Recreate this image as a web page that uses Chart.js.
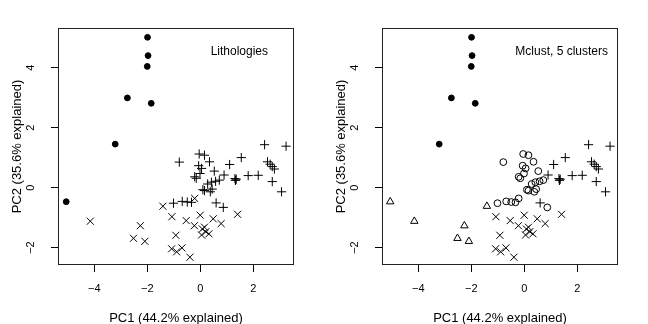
<!DOCTYPE html>
<html>
<head>
<meta charset="utf-8">
<script src="https://cdn.jsdelivr.net/npm/chart.js@4.4.0/dist/chart.umd.min.js"></script>
<style>
html, body { margin: 0; padding: 0; background: #fff; }
#wrap { width: 648px; height: 324px; display: flex; }
canvas { display: block; }
</style>
</head>
<body>
<div id="wrap">
  <canvas id="leftChart" width="324" height="324"></canvas>
  <canvas id="rightChart" width="324" height="324"></canvas>
</div>
<script>
// PCA scores, one entry per sample
const pc1 = [
    -1.99, -1.97, -2.00, -2.75, -1.85, -3.21, -5.06,
    -4.15, -2.26, -2.52, -2.09, -1.41,
    -1.07, -0.53, -0.92, -1.08, -0.89, -0.69, -0.39, -0.22, 0.00, 0.08, 0.16, 0.21, 0.05, 0.33, 0.49, 0.79, 1.41,
    -0.21,
    -0.79, -0.04, 0.16, 0.35, -0.06, 0.05, 0.53, -0.21, -0.15, -0.01, 0.28, 0.42, 0.58, 0.72, 0.10, 0.16, 0.38, 0.45, -1.01, -0.68, -0.49, -0.33, 0.87,
    2.43, 3.24, 1.55, 1.11, 2.54, 2.64, 2.72, 2.80, 0.90, 1.31, 1.33, 1.36, 1.81, 2.19, 2.72, 3.07, 0.60
];
const pc2 = [
    5.01, 4.40, 4.04, 2.99, 2.81, 1.45, -0.47,
    -1.12, -1.27, -1.69, -1.79, -0.62,
    -0.97, -1.10, -1.59, -2.04, -2.14, -2.01, -2.32, -1.27, -0.92, -1.38, -1.32, -1.47, -1.58, -1.54, -1.04, -1.20, -0.89,
    -0.36,
    0.85, 1.12, 1.08, 0.86, 0.73, 0.64, 0.55, 0.36, 0.31, 0.47, 0.12, 0.18, 0.21, 0.25, -0.07, -0.10, -0.14, -0.05, -0.52, -0.46, -0.48, -0.49, -0.66,
    1.43, 1.38, 1.00, 0.77, 0.86, 0.78, 0.70, 0.62, 0.42, 0.30, 0.24, 0.28, 0.40, 0.41, 0.20, -0.14, -0.51
];
// lithology: 1 = dot, 2 = plus, 3 = cross
const lithology = [
    1, 1, 1, 1, 1, 1, 1,
    3, 3, 3, 3, 3,
    3, 3, 3, 3, 3, 3, 3, 3, 3, 3, 3, 3, 3, 3, 3, 3, 3,
    3,
    2, 2, 2, 2, 2, 2, 2, 2, 2, 2, 2, 2, 2, 2, 2, 2, 2, 2, 2, 2, 2, 2, 2,
    2, 2, 2, 2, 2, 2, 2, 2, 2, 2, 2, 2, 2, 2, 2, 2, 2
];
// mclust: 1 = dot, 2 = open circle, 3 = plus, 4 = cross, 5 = triangle
const cluster = [
    1, 1, 1, 1, 1, 1, 5,
    5, 5, 5, 5, 5,
    4, 4, 4, 4, 4, 4, 4, 4, 4, 4, 4, 4, 4, 4, 4, 4, 4,
    2,
    2, 2, 2, 2, 2, 2, 2, 2, 2, 2, 2, 2, 2, 2, 2, 2, 2, 2, 2, 2, 2, 2, 2,
    3, 3, 3, 3, 3, 3, 3, 3, 3, 3, 3, 3, 3, 3, 3, 3, 3
];
const xTicks = [-4, -2, 0, 2];
const yTicks = [-2, 0, 2, 4];
const xTitle = 'PC1 (44.2% explained)';
const yTitle = 'PC2 (35.6% explained)';

Chart.defaults.font.family = "'Liberation Sans', Arial, sans-serif";
Chart.defaults.color = '#000';

const symbols = {
    dot: { pointStyle: 'circle', pointRadius: 2.9, backgroundColor: '#000' },
    ring: { pointStyle: 'circle', pointRadius: 3.4, backgroundColor: 'rgba(0,0,0,0)' },
    plus: { pointStyle: 'cross', pointRadius: 4.6, backgroundColor: 'rgba(0,0,0,0)' },
    cross: { pointStyle: 'crossRot', pointRadius: 5, backgroundColor: 'rgba(0,0,0,0)' },
    tri: { pointStyle: 'triangle', pointRadius: 4.3, backgroundColor: 'rgba(0,0,0,0)' }
};

function groupData(classes, cls) {
    const pts = [];
    classes.forEach((c, i) => {
        if (c === cls) pts.push({ x: pc1[i], y: pc2[i] });
    });
    return pts;
}

// frame round the plot region + panel label
const framePlugin = {
    id: 'frame',
    afterDraw(chart, args, opts) {
        const { ctx, chartArea: a } = chart;
        ctx.save();
        ctx.strokeStyle = '#222';
        ctx.lineWidth = 1;
        ctx.strokeRect(a.left + 0.5, a.top + 0.5, a.right - a.left - 1, a.bottom - a.top - 1);
        ctx.fillStyle = '#000';
        ctx.font = "12px 'Liberation Sans', Arial, sans-serif";
        ctx.textAlign = 'right';
        ctx.textBaseline = 'middle';
        ctx.fillText(opts.label, a.right - opts.inset, a.top + 24);
        ctx.restore();
    }
};

function fmt(v) {
    return v < 0 ? '\u2212' + Math.abs(v) : String(v);
}

function buildChart(canvasId, classes, styleMap, label, inset) {
    const datasets = Object.keys(styleMap).map(k => {
        const s = symbols[styleMap[k]];
        return {
            data: groupData(classes, Number(k)),
            pointStyle: s.pointStyle,
            pointRadius: s.pointRadius,
            pointBackgroundColor: s.backgroundColor,
            pointBorderColor: '#000',
            pointBorderWidth: 1,
            showLine: false
        };
    });

    new Chart(document.getElementById(canvasId), {
        type: 'scatter',
        data: { datasets },
        options: {
            responsive: false,
            animation: false,
            events: [],
            layout: { padding: { top: 28, right: 30, left: 0, bottom: 0 } },
            plugins: {
                legend: { display: false },
                tooltip: { enabled: false },
                frame: { label, inset }
            },
            scales: {
                x: {
                    type: 'linear',
                    min: -5.37,
                    max: 3.54,
                    afterBuildTicks: s => { s.ticks = xTicks.map(v => ({ value: v })); },
                    afterFit: s => { s.height = 59; },
                    border: { display: false },
                    grid: { drawOnChartArea: false, drawTicks: true, tickLength: 7, color: '#000' },
                    ticks: { font: { size: 11 }, padding: 10, maxRotation: 0, autoSkip: false, callback: fmt },
                    title: { display: true, text: xTitle, font: { size: 13 }, padding: { top: 0, bottom: -2 } }
                },
                y: {
                    type: 'linear',
                    min: -2.58,
                    max: 5.32,
                    afterBuildTicks: s => { s.ticks = yTicks.map(v => ({ value: v })); },
                    afterFit: s => { s.width = 58; },
                    border: { display: false },
                    grid: { drawOnChartArea: false, drawTicks: true, tickLength: 7, color: '#000' },
                    ticks: { font: { size: 11 }, padding: 14, minRotation: 90, maxRotation: 90, crossAlign: 'center', autoSkip: false, callback: fmt },
                    title: { display: true, text: yTitle, font: { size: 13 }, padding: { top: 10, bottom: 0 } }
                }
            }
        },
        plugins: [framePlugin]
    });
}

buildChart('leftChart', lithology, { 1: 'dot', 2: 'plus', 3: 'cross' }, 'Lithologies', 26);
buildChart('rightChart', cluster, { 1: 'dot', 2: 'ring', 3: 'plus', 4: 'cross', 5: 'tri' }, 'Mclust, 5 clusters', 10);
</script>
</body>
</html>
